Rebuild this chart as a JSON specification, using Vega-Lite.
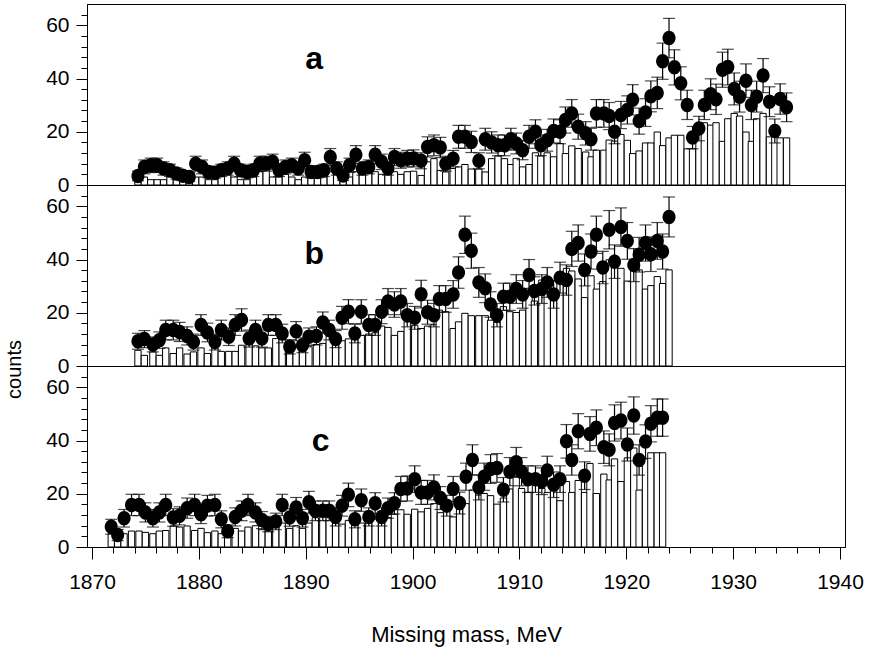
{
  "$schema": "https://vega.github.io/schema/vega-lite/v6.json",
  "background": "white",
  "padding": {"left": 3, "top": 3, "right": 2, "bottom": 5},
  "spacing": 0,
  "bounds": "flush",
  "datasets": {
    "a": [
      {"m":1874.3,"v":3.4,"e":1.8,"h":2},{"m":1874.9,"v":6.8,"e":2.6,"h":3},{"m":1875.5,"v":7.4,"e":2.7,"h":2},{"m":1876.1,"v":7.4,"e":2.7,"h":2},
      {"m":1876.7,"v":6.2,"e":2.5,"h":2},{"m":1877.3,"v":5.5,"e":2.3,"h":3},{"m":1877.9,"v":4.3,"e":2.1,"h":2},{"m":1878.5,"v":3.5,"e":1.9,"h":2},
      {"m":1879.1,"v":3.0,"e":1.7,"h":2},{"m":1879.7,"v":8.0,"e":2.8,"h":3},{"m":1880.3,"v":6.8,"e":2.6,"h":3},{"m":1880.9,"v":4.9,"e":2.2,"h":2},
      {"m":1881.5,"v":4.6,"e":2.1,"h":2},{"m":1882.1,"v":5.5,"e":2.3,"h":4},{"m":1882.7,"v":6.2,"e":2.5,"h":4},{"m":1883.3,"v":8.0,"e":2.8,"h":3},
      {"m":1883.9,"v":5.5,"e":2.3,"h":2},{"m":1884.5,"v":4.9,"e":2.2,"h":2},{"m":1885.1,"v":5.5,"e":2.3,"h":3},{"m":1885.7,"v":8.0,"e":2.8,"h":5},
      {"m":1886.3,"v":8.0,"e":2.8,"h":6},{"m":1886.9,"v":8.7,"e":2.9,"h":3},{"m":1887.5,"v":5.5,"e":2.3,"h":3},{"m":1888.1,"v":6.8,"e":2.6,"h":4},
      {"m":1888.7,"v":7.4,"e":2.7,"h":3},{"m":1889.3,"v":6.2,"e":2.5,"h":2},{"m":1889.9,"v":9.3,"e":3.0,"h":3},{"m":1890.5,"v":4.9,"e":2.2,"h":4},
      {"m":1891.1,"v":4.9,"e":2.2,"h":3},{"m":1891.7,"v":5.5,"e":2.3,"h":3},{"m":1892.3,"v":10.5,"e":3.2,"h":5},{"m":1892.9,"v":6.2,"e":2.5,"h":4},
      {"m":1893.5,"v":3.6,"e":1.9,"h":5},{"m":1894.1,"v":7.4,"e":2.7,"h":3},{"m":1894.7,"v":11.4,"e":3.4,"h":5},{"m":1895.3,"v":6.2,"e":2.5,"h":4},
      {"m":1895.9,"v":6.8,"e":2.6,"h":5},{"m":1896.5,"v":11.4,"e":3.4,"h":5},{"m":1897.1,"v":8.7,"e":2.9,"h":4},{"m":1897.7,"v":6.2,"e":2.5,"h":6},
      {"m":1898.3,"v":10.5,"e":3.2,"h":5},{"m":1898.9,"v":9.3,"e":3.0,"h":4},{"m":1899.5,"v":9.9,"e":3.1,"h":5},{"m":1900.1,"v":10.0,"e":3.2,"h":5.2},
      {"m":1900.8,"v":9.1,"e":3.0,"h":3.6},{"m":1901.4,"v":14.3,"e":3.8,"h":8.7},{"m":1902.0,"v":14.9,"e":3.9,"h":9.9},{"m":1902.6,"v":14.1,"e":3.8,"h":5.5},
      {"m":1903.1,"v":8.0,"e":2.8,"h":4.9},{"m":1903.8,"v":9.9,"e":3.1,"h":6.2},{"m":1904.3,"v":18.1,"e":4.3,"h":6.8},{"m":1904.9,"v":18.1,"e":4.3,"h":7.7},
      {"m":1905.5,"v":16.2,"e":4.0,"h":6.0},{"m":1906.2,"v":9.1,"e":3.0,"h":6.0},{"m":1906.8,"v":17.2,"e":4.1,"h":4.9},{"m":1907.4,"v":16.0,"e":4.0,"h":9.9},
      {"m":1908.0,"v":14.9,"e":3.9,"h":10.9},{"m":1908.6,"v":14.9,"e":3.9,"h":9.9},{"m":1909.2,"v":17.2,"e":4.1,"h":7.7},{"m":1909.7,"v":15.6,"e":3.9,"h":10.0},
      {"m":1910.3,"v":13.1,"e":3.6,"h":6.8},{"m":1910.9,"v":18.1,"e":4.3,"h":7.7},{"m":1911.5,"v":20.0,"e":4.5,"h":12.1},{"m":1912.0,"v":14.9,"e":3.9,"h":10.9},
      {"m":1912.6,"v":16.8,"e":4.1,"h":12.1},{"m":1913.2,"v":20.3,"e":4.5,"h":10.6},{"m":1913.8,"v":20.0,"e":4.5,"h":15.6},{"m":1914.3,"v":24.4,"e":4.9,"h":11.8},
      {"m":1914.9,"v":26.9,"e":5.2,"h":14.7},{"m":1915.5,"v":21.9,"e":4.7,"h":13.7},{"m":1916.2,"v":19.4,"e":4.4,"h":12.4},{"m":1916.7,"v":17.2,"e":4.1,"h":10.6},
      {"m":1917.2,"v":26.9,"e":5.2,"h":13.1},{"m":1917.9,"v":26.9,"e":5.2,"h":13.1},{"m":1918.4,"v":25.9,"e":5.1,"h":16.9},{"m":1918.9,"v":20.0,"e":4.5,"h":16.5},
      {"m":1919.5,"v":26.3,"e":5.1,"h":19.0},{"m":1920.1,"v":28.2,"e":5.3,"h":16.8},{"m":1920.6,"v":32.0,"e":5.7,"h":11.8},{"m":1921.2,"v":24.0,"e":4.9,"h":12.8},
      {"m":1921.8,"v":27.2,"e":5.2,"h":15.8},{"m":1922.3,"v":33.3,"e":5.8,"h":15.8},{"m":1922.9,"v":34.6,"e":5.9,"h":19.9},{"m":1923.4,"v":46.5,"e":6.8,"h":14.8},
      {"m":1924.0,"v":55.2,"e":7.4,"h":17.7},{"m":1924.5,"v":44.2,"e":6.6,"h":18.7},{"m":1925.1,"v":38.2,"e":6.2,"h":18.7},{"m":1925.7,"v":30.1,"e":5.5,"h":13.6},
      {"m":1926.2,"v":17.8,"e":4.2,"h":13.6},{"m":1926.8,"v":21.2,"e":4.6,"h":22.5},{"m":1927.3,"v":30.1,"e":5.5,"h":23.4},{"m":1927.9,"v":34.1,"e":5.8,"h":22.5},
      {"m":1928.4,"v":32.2,"e":5.7,"h":23.4},{"m":1929.0,"v":43.3,"e":6.6,"h":16.4},{"m":1929.5,"v":44.3,"e":6.7,"h":24.9},{"m":1930.1,"v":36.1,"e":6.0,"h":26.9},
      {"m":1930.6,"v":33.2,"e":5.8,"h":25.9},{"m":1931.2,"v":39.2,"e":6.3,"h":19.9},{"m":1931.7,"v":30.1,"e":5.5,"h":16.4},{"m":1932.2,"v":33.2,"e":5.8,"h":24.9},
      {"m":1932.8,"v":41.1,"e":6.4,"h":26.9},{"m":1933.4,"v":31.3,"e":5.6,"h":18.1},{"m":1933.9,"v":20.3,"e":4.5,"h":21.0},{"m":1934.4,"v":32.3,"e":5.7,"h":17.7},
      {"m":1935.0,"v":29.2,"e":5.4,"h":17.7}
    ],
    "b": [
      {"m":1874.3,"v":9.3,"e":3.0,"h":5.9},{"m":1874.9,"v":10.1,"e":3.2,"h":4.0},{"m":1875.7,"v":8.1,"e":2.8,"h":5.3},{"m":1876.3,"v":9.7,"e":3.1,"h":4.0},
      {"m":1876.9,"v":13.5,"e":3.7,"h":6.8},{"m":1877.6,"v":13.5,"e":3.7,"h":4.7},{"m":1878.2,"v":12.8,"e":3.6,"h":6.8},{"m":1878.9,"v":11.3,"e":3.4,"h":4.5},
      {"m":1879.5,"v":9.0,"e":3.0,"h":5.3},{"m":1880.2,"v":15.4,"e":3.9,"h":6.8},{"m":1880.8,"v":12.6,"e":3.5,"h":4.7},{"m":1881.5,"v":9.0,"e":3.0,"h":6.8},
      {"m":1882.1,"v":13.5,"e":3.7,"h":5.5},{"m":1882.8,"v":11.0,"e":3.3,"h":5.5},{"m":1883.4,"v":15.4,"e":3.9,"h":5.5},{"m":1884.0,"v":17.3,"e":4.2,"h":7.8},
      {"m":1884.7,"v":10.3,"e":3.2,"h":9.0},{"m":1885.3,"v":13.5,"e":3.7,"h":7.6},{"m":1885.9,"v":10.3,"e":3.2,"h":6.8},{"m":1886.5,"v":15.4,"e":3.9,"h":6.8},
      {"m":1887.2,"v":15.4,"e":3.9,"h":10.3},{"m":1887.8,"v":12.2,"e":3.5,"h":11.0},{"m":1888.5,"v":7.2,"e":2.7,"h":8.5},{"m":1889.1,"v":13.1,"e":3.6,"h":7.0},
      {"m":1889.7,"v":7.8,"e":2.8,"h":7.6},{"m":1890.3,"v":11.0,"e":3.3,"h":7.2},{"m":1891.0,"v":11.3,"e":3.4,"h":8.1},{"m":1891.6,"v":16.3,"e":4.0,"h":8.5},
      {"m":1892.2,"v":13.5,"e":3.7,"h":11.3},{"m":1892.8,"v":10.1,"e":3.2,"h":11.0},{"m":1893.4,"v":18.1,"e":4.3,"h":9.5},{"m":1894.0,"v":20.4,"e":4.5,"h":10.2},
      {"m":1894.6,"v":12.2,"e":3.5,"h":14.0},{"m":1895.2,"v":20.4,"e":4.5,"h":11.5},{"m":1895.9,"v":15.4,"e":3.9,"h":12.0},{"m":1896.5,"v":15.4,"e":3.9,"h":12.5},
      {"m":1897.1,"v":20.4,"e":4.5,"h":15.0},{"m":1897.7,"v":24.2,"e":4.9,"h":14.5},{"m":1898.3,"v":23.1,"e":4.8,"h":11.5},{"m":1898.9,"v":24.2,"e":4.9,"h":13.0},
      {"m":1899.5,"v":19.1,"e":4.4,"h":16.6},{"m":1900.2,"v":18.1,"e":4.3,"h":15.3},{"m":1900.8,"v":27.0,"e":5.2,"h":14.1},{"m":1901.4,"v":20.2,"e":4.5,"h":15.0},
      {"m":1902.0,"v":19.1,"e":4.4,"h":15.5},{"m":1902.5,"v":25.2,"e":5.0,"h":21.0},{"m":1903.1,"v":25.2,"e":5.0,"h":20.4},{"m":1903.8,"v":26.9,"e":5.2,"h":14.1},
      {"m":1904.3,"v":35.1,"e":5.9,"h":16.6},{"m":1904.9,"v":49.3,"e":7.0,"h":19.8},{"m":1905.5,"v":43.3,"e":6.6,"h":18.9},{"m":1906.2,"v":31.4,"e":5.6,"h":18.9},
      {"m":1906.8,"v":29.2,"e":5.4,"h":18.9},{"m":1907.3,"v":23.1,"e":4.8,"h":17.2},{"m":1907.9,"v":19.1,"e":4.4,"h":16.4},{"m":1908.5,"v":26.0,"e":5.1,"h":22.3},
      {"m":1909.1,"v":26.0,"e":5.1,"h":20.4},{"m":1909.7,"v":28.9,"e":5.4,"h":20.1},{"m":1910.3,"v":26.9,"e":5.2,"h":21.0},{"m":1910.9,"v":34.2,"e":5.8,"h":29.2},
      {"m":1911.4,"v":28.2,"e":5.3,"h":24.4},{"m":1912.1,"v":28.9,"e":5.4,"h":32.3},{"m":1912.6,"v":31.4,"e":5.6,"h":28.0},{"m":1913.2,"v":26.9,"e":5.2,"h":25.7},
      {"m":1913.8,"v":33.2,"e":5.8,"h":32.3},{"m":1914.4,"v":32.3,"e":5.7,"h":36.7},{"m":1914.9,"v":44.0,"e":6.6,"h":35.7},{"m":1915.5,"v":46.2,"e":6.8,"h":32.7},
      {"m":1916.1,"v":36.1,"e":6.0,"h":25.7},{"m":1916.7,"v":43.0,"e":6.6,"h":33.9},{"m":1917.2,"v":49.3,"e":7.0,"h":28.9},{"m":1917.8,"v":37.0,"e":6.1,"h":31.7},
      {"m":1918.4,"v":51.2,"e":7.2,"h":39.9},{"m":1918.9,"v":39.2,"e":6.3,"h":38.6},{"m":1919.5,"v":52.2,"e":7.2,"h":36.7},{"m":1920.1,"v":47.0,"e":6.9,"h":31.9},
      {"m":1920.7,"v":37.9,"e":6.2,"h":36.5},{"m":1921.2,"v":41.8,"e":6.5,"h":36.1},{"m":1921.8,"v":46.2,"e":6.8,"h":28.9},{"m":1922.3,"v":42.0,"e":6.5,"h":30.2},
      {"m":1922.9,"v":47.0,"e":6.9,"h":33.6},{"m":1923.4,"v":43.0,"e":6.6,"h":31.0},{"m":1924.0,"v":56.0,"e":7.5,"h":36.1}
    ],
    "c": [
      {"m":1871.8,"v":7.6,"e":2.8,"h":5},{"m":1872.4,"v":4.5,"e":2.1,"h":4},{"m":1873.0,"v":10.8,"e":3.3,"h":5},{"m":1873.7,"v":15.8,"e":4.0,"h":6},
      {"m":1874.4,"v":15.8,"e":4.0,"h":6},{"m":1875.0,"v":13.0,"e":3.6,"h":5.5},{"m":1875.7,"v":10.8,"e":3.3,"h":5},{"m":1876.3,"v":13.0,"e":3.6,"h":6},
      {"m":1876.9,"v":15.8,"e":4.0,"h":6.2},{"m":1877.6,"v":11.1,"e":3.3,"h":7.9},{"m":1878.2,"v":11.7,"e":3.4,"h":7.5},{"m":1878.9,"v":14.6,"e":3.8,"h":7.9},
      {"m":1879.6,"v":15.8,"e":4.0,"h":6.2},{"m":1880.2,"v":12.3,"e":3.5,"h":7},{"m":1880.8,"v":15.5,"e":3.9,"h":5.4},{"m":1881.5,"v":15.8,"e":4.0,"h":6},
      {"m":1882.1,"v":10.4,"e":3.2,"h":5},{"m":1882.7,"v":5.9,"e":2.4,"h":6.5},{"m":1883.4,"v":11.3,"e":3.4,"h":7},{"m":1884.0,"v":13.6,"e":3.7,"h":6},
      {"m":1884.6,"v":15.8,"e":4.0,"h":7.5},{"m":1885.3,"v":13.0,"e":3.6,"h":8},{"m":1885.9,"v":10.1,"e":3.2,"h":6.5},{"m":1886.5,"v":8.6,"e":2.9,"h":6},
      {"m":1887.2,"v":9.6,"e":3.1,"h":7.5},{"m":1887.8,"v":15.8,"e":4.0,"h":9},{"m":1888.5,"v":11.1,"e":3.3,"h":7},{"m":1889.1,"v":14.8,"e":3.8,"h":8},
      {"m":1889.7,"v":10.8,"e":3.3,"h":7},{"m":1890.3,"v":16.8,"e":4.1,"h":9},{"m":1890.9,"v":13.6,"e":3.7,"h":11},{"m":1891.6,"v":13.6,"e":3.7,"h":11.3},
      {"m":1892.2,"v":13.6,"e":3.7,"h":11},{"m":1892.8,"v":11.3,"e":3.4,"h":9},{"m":1893.4,"v":15.5,"e":3.9,"h":8.6},{"m":1894.0,"v":19.6,"e":4.4,"h":10},
      {"m":1894.6,"v":10.4,"e":3.2,"h":11},{"m":1895.2,"v":17.6,"e":4.2,"h":9},{"m":1895.9,"v":11.3,"e":3.4,"h":12},{"m":1896.5,"v":16.4,"e":4.0,"h":10.5},
      {"m":1897.1,"v":11.3,"e":3.4,"h":13},{"m":1897.7,"v":14.6,"e":3.8,"h":11},{"m":1898.3,"v":16.4,"e":4.0,"h":12.3},{"m":1898.9,"v":21.8,"e":4.7,"h":14},
      {"m":1899.5,"v":22.0,"e":4.7,"h":12.3},{"m":1900.2,"v":25.5,"e":5.0,"h":14.2},{"m":1900.8,"v":20.5,"e":4.5,"h":13.2},{"m":1901.4,"v":20.5,"e":4.5,"h":14.5},
      {"m":1902.0,"v":22.4,"e":4.7,"h":16.3},{"m":1902.6,"v":18.4,"e":4.3,"h":12.9},{"m":1903.2,"v":15.5,"e":3.9,"h":13.5},{"m":1903.8,"v":21.8,"e":4.7,"h":11.3},
      {"m":1904.4,"v":16.5,"e":4.1,"h":14.5},{"m":1905.0,"v":26.4,"e":5.1,"h":16.3},{"m":1905.6,"v":32.7,"e":5.7,"h":21.4},{"m":1906.2,"v":22.4,"e":4.7,"h":19.5},
      {"m":1906.7,"v":26.4,"e":5.1,"h":20.1},{"m":1907.3,"v":29.3,"e":5.4,"h":19.3},{"m":1907.9,"v":29.7,"e":5.4,"h":16.1},{"m":1908.5,"v":21.5,"e":4.6,"h":18.4},
      {"m":1909.1,"v":28.3,"e":5.3,"h":21.8},{"m":1909.7,"v":31.8,"e":5.6,"h":26.4},{"m":1910.2,"v":28.3,"e":5.3,"h":22.0},{"m":1910.8,"v":25.5,"e":5.0,"h":20.5},
      {"m":1911.5,"v":25.5,"e":5.0,"h":25.0},{"m":1912.1,"v":24.7,"e":5.0,"h":22.0},{"m":1912.6,"v":28.7,"e":5.4,"h":20.5},{"m":1913.2,"v":23.4,"e":4.8,"h":21.8},
      {"m":1913.8,"v":25.5,"e":5.0,"h":17.4},{"m":1914.4,"v":39.7,"e":6.3,"h":24.6},{"m":1914.9,"v":32.7,"e":5.7,"h":20.5},{"m":1915.5,"v":43.5,"e":6.6,"h":25.0},
      {"m":1916.1,"v":26.8,"e":5.2,"h":20.5},{"m":1916.6,"v":42.5,"e":6.5,"h":31.4},{"m":1917.2,"v":44.8,"e":6.7,"h":20.1},{"m":1917.9,"v":37.5,"e":6.1,"h":27.4},
      {"m":1918.4,"v":36.5,"e":6.0,"h":25.2},{"m":1918.9,"v":46.6,"e":6.8,"h":33.1},{"m":1919.5,"v":47.5,"e":6.9,"h":24.6},{"m":1920.1,"v":38.5,"e":6.2,"h":33.5},
      {"m":1920.7,"v":49.4,"e":7.0,"h":37.2},{"m":1921.2,"v":32.7,"e":5.7,"h":21.4},{"m":1921.8,"v":39.6,"e":6.3,"h":33.1},{"m":1922.3,"v":46.3,"e":6.8,"h":35.4},
      {"m":1922.9,"v":48.6,"e":7.0,"h":35.4},{"m":1923.4,"v":48.6,"e":7.0,"h":35.4}
    ]
  },
  "vconcat": [
    {
      "width": 758, "height": 181,
      "data": {"name": "a"},
      "encoding": {"x": {"field": "m", "type": "quantitative", "scale": {"domain": [1870, 1940], "nice": false, "zero": false}, "axis": null}},
      "layer": [
        {"mark": {"type": "bar", "width": 6.3, "fill": "white", "stroke": "black", "strokeWidth": 1},
         "encoding": {"y": {"field": "h", "type": "quantitative", "title": null, "scale": {"domain": [0, 68], "nice": false},
           "axis": {"values": [0,4,8,12,16,20,24,28,32,36,40,44,48,52,56,60,64], "tickCount": 100, "format": "d", "labelExpr": "datum.value % 20 === 0 ? datum.label : ''",
             "tickSize": {"condition": {"test": "datum.value % 20 === 0", "value": 11}, "value": 6}, "labelFontSize": 21, "labelPadding": 7, "labelOverlap": false}}}},
        {"mark": {"type": "errorbar", "ticks": {"size": 12}, "color": "black", "thickness": 1.2},
         "encoding": {"y": {"field": "v", "type": "quantitative", "title": null}, "yError": {"field": "e"}}},
        {"mark": {"type": "point", "shape": "M -0.9 0 A 0.9 1 0 1 1 0.9 0 A 0.9 1 0 1 1 -0.9 0 Z", "filled": true, "size": 210, "color": "black", "opacity": 1},
         "encoding": {"y": {"field": "v", "type": "quantitative", "title": null}}},
        {"data": {"values": [{"m": 1890.8, "v": 43.4, "t": "a"}]},
         "mark": {"type": "text", "fontSize": 32, "fontWeight": "bold", "align": "center", "baseline": "alphabetic", "color": "black"},
         "encoding": {"y": {"field": "v", "type": "quantitative", "title": null}, "text": {"field": "t"}}}
      ]
    },
    {
      "width": 758, "height": 181,
      "data": {"name": "b"},
      "encoding": {"x": {"field": "m", "type": "quantitative", "scale": {"domain": [1870, 1940], "nice": false, "zero": false}, "axis": null}},
      "layer": [
        {"mark": {"type": "bar", "width": 6.3, "fill": "white", "stroke": "black", "strokeWidth": 1},
         "encoding": {"y": {"field": "h", "type": "quantitative", "title": "counts", "scale": {"domain": [0, 68], "nice": false},
           "axis": {"values": [0,4,8,12,16,20,24,28,32,36,40,44,48,52,56,60,64], "tickCount": 100, "format": "d", "labelExpr": "datum.value % 20 === 0 ? datum.label : ''",
             "tickSize": {"condition": {"test": "datum.value % 20 === 0", "value": 11}, "value": 6}, "labelFontSize": 21, "labelPadding": 7, "labelOverlap": false,
             "titleFontSize": 20, "titleFontWeight": "normal", "titleAngle": 270, "titleX": -67, "titleY": 184, "titleAlign": "center", "titleBaseline": "alphabetic"}}}},
        {"mark": {"type": "errorbar", "ticks": {"size": 12}, "color": "black", "thickness": 1.2},
         "encoding": {"y": {"field": "v", "type": "quantitative", "title": "counts"}, "yError": {"field": "e"}}},
        {"mark": {"type": "point", "shape": "M -0.9 0 A 0.9 1 0 1 1 0.9 0 A 0.9 1 0 1 1 -0.9 0 Z", "filled": true, "size": 210, "color": "black", "opacity": 1},
         "encoding": {"y": {"field": "v", "type": "quantitative", "title": "counts"}}},
        {"data": {"values": [{"m": 1890.8, "v": 38.5, "t": "b"}]},
         "mark": {"type": "text", "fontSize": 32, "fontWeight": "bold", "align": "center", "baseline": "alphabetic", "color": "black"},
         "encoding": {"y": {"field": "v", "type": "quantitative", "title": "counts"}, "text": {"field": "t"}}}
      ]
    },
    {
      "width": 758, "height": 181,
      "data": {"name": "c"},
      "encoding": {"x": {"field": "m", "type": "quantitative", "title": "Missing mass, MeV", "scale": {"domain": [1870, 1940], "nice": false, "zero": false},
        "axis": {"values": [1870,1872,1874,1876,1878,1880,1882,1884,1886,1888,1890,1892,1894,1896,1898,1900,1902,1904,1906,1908,1910,1912,1914,1916,1918,1920,1922,1924,1926,1928,1930,1932,1934,1936,1938,1940],
          "tickCount": 100, "format": "d", "labelExpr": "datum.value % 10 === 0 ? datum.label : ''",
          "tickSize": {"condition": {"test": "datum.value % 10 === 0", "value": 12}, "value": 6},
          "labelFontSize": 21, "labelPadding": 12, "labelFlush": false, "labelOverlap": false,
          "titleFontSize": 22, "titleFontWeight": "normal", "titlePadding": 32}}},
      "layer": [
        {"mark": {"type": "bar", "width": 6.3, "fill": "white", "stroke": "black", "strokeWidth": 1},
         "encoding": {"y": {"field": "h", "type": "quantitative", "title": null, "scale": {"domain": [0, 68], "nice": false},
           "axis": {"values": [0,4,8,12,16,20,24,28,32,36,40,44,48,52,56,60,64], "tickCount": 100, "format": "d", "labelExpr": "datum.value % 20 === 0 ? datum.label : ''",
             "tickSize": {"condition": {"test": "datum.value % 20 === 0", "value": 11}, "value": 6}, "labelFontSize": 21, "labelPadding": 7, "labelOverlap": false}}}},
        {"mark": {"type": "errorbar", "ticks": {"size": 12}, "color": "black", "thickness": 1.2},
         "encoding": {"y": {"field": "v", "type": "quantitative", "title": null}, "yError": {"field": "e"}}},
        {"mark": {"type": "point", "shape": "M -0.9 0 A 0.9 1 0 1 1 0.9 0 A 0.9 1 0 1 1 -0.9 0 Z", "filled": true, "size": 210, "color": "black", "opacity": 1},
         "encoding": {"y": {"field": "v", "type": "quantitative", "title": null}}},
        {"data": {"values": [{"m": 1891.4, "v": 36.2, "t": "c"}]},
         "mark": {"type": "text", "fontSize": 32, "fontWeight": "bold", "align": "center", "baseline": "alphabetic", "color": "black"},
         "encoding": {"y": {"field": "v", "type": "quantitative", "title": null}, "text": {"field": "t"}}}
      ]
    }
  ],
  "config": {
    "font": "Liberation Sans",
    "view": {"stroke": "black", "strokeWidth": 1},
    "axis": {"domainColor": "black", "tickColor": "black", "labelColor": "black", "titleColor": "black", "grid": false, "tickWidth": 1, "domainWidth": 1}
  }
}
